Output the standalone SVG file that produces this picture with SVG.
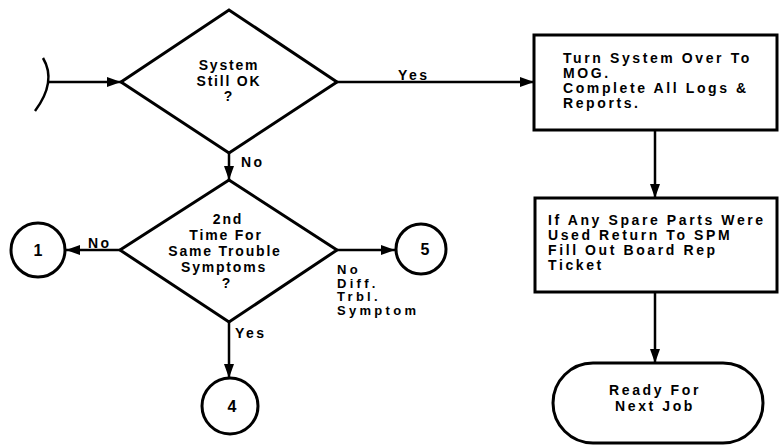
<svg xmlns="http://www.w3.org/2000/svg" width="781" height="446" viewBox="0 0 781 446">
  <style>
    .shape { fill: #fff; stroke: #000; stroke-width: 3; stroke-linejoin: miter; }
    .line { fill: none; stroke: #000; stroke-width: 2.5; }
    text { font-family: "Liberation Sans", Arial, Helvetica, sans-serif; font-weight: bold; font-size: 14px; fill: #000; letter-spacing: 2.6px; }
    .c { text-anchor: middle; letter-spacing: 1.8px; }
    .lab { letter-spacing: 2.5px; }
    .small { font-size: 13px; letter-spacing: 3.3px; }
    .num { text-anchor: middle; font-size: 16px; letter-spacing: 0; }
  </style>
  <defs>
    <marker id="arrow" viewBox="0 0 14 10" refX="14" refY="5" markerWidth="14" markerHeight="10" markerUnits="userSpaceOnUse" orient="auto">
      <path d="M0,0 L14,5 L0,10 Z" fill="#000"/>
    </marker>
  </defs>

  <!-- connectors and their labels -->
  <g id="connectors">
    <path class="line" d="M43,58 Q57,81.5 35,111"/>
    <line class="line" x1="48" y1="82" x2="121" y2="82" marker-end="url(#arrow)"/>
    <line class="line" x1="337" y1="82" x2="534" y2="82" marker-end="url(#arrow)"/>
    <line class="line" x1="229" y1="153" x2="229" y2="180" marker-end="url(#arrow)"/>
    <line class="line" x1="120" y1="250" x2="66" y2="250" marker-end="url(#arrow)"/>
    <line class="line" x1="337" y1="250" x2="395" y2="250" marker-end="url(#arrow)"/>
    <line class="line" x1="229" y1="322" x2="229" y2="378" marker-end="url(#arrow)"/>
    <line class="line" x1="655" y1="130" x2="655" y2="198" marker-end="url(#arrow)"/>
    <line class="line" x1="655" y1="292" x2="655" y2="363" marker-end="url(#arrow)"/>
    <text class="lab" x="398" y="80">Yes</text>
    <text class="lab" x="241" y="167">No</text>
    <text class="lab" x="88" y="248">No</text>
    <text class="lab" x="235" y="338">Yes</text>
    <text class="small"><tspan x="337" y="274">No</tspan><tspan x="337" y="287.5">Diff.</tspan><tspan x="337" y="301">Trbl.</tspan><tspan x="337" y="314.5">Symptom</tspan></text>
  </g>

  <g id="decision-system-ok">
    <polygon class="shape" points="121,82 229,10 337,82 229,153"/>
    <text class="c"><tspan x="229" y="70">System</tspan><tspan x="229" y="86">Still OK</tspan><tspan x="229" y="101">?</tspan></text>
  </g>

  <g id="decision-second-time">
    <polygon class="shape" points="120,250 229,180 337,250 229,322"/>
    <text class="c"><tspan x="228" y="224">2nd</tspan><tspan x="226" y="240">Time For</tspan><tspan x="225" y="256">Same Trouble</tspan><tspan x="224" y="272">Symptoms</tspan><tspan x="227" y="288">?</tspan></text>
  </g>

  <g id="connector-1">
    <circle class="shape" cx="38" cy="250" r="27"/>
    <text class="num" x="38" y="256">1</text>
  </g>

  <g id="connector-5">
    <circle class="shape" cx="421" cy="249" r="25"/>
    <text class="num" x="425" y="255">5</text>
  </g>

  <g id="connector-4">
    <circle class="shape" cx="230" cy="406" r="28"/>
    <text class="num" x="232" y="412">4</text>
  </g>

  <g id="turn-over">
    <rect class="shape" x="534" y="35" width="243" height="95"/>
    <text><tspan x="563" y="63">Turn System Over To</tspan><tspan x="563" y="78">MOG.</tspan><tspan x="563" y="93">Complete All Logs &amp;</tspan><tspan x="563" y="108">Reports.</tspan></text>
  </g>

  <g id="spare-parts">
    <rect class="shape" x="535" y="198" width="242" height="94"/>
    <text><tspan x="548" y="225">If Any Spare Parts Were</tspan><tspan x="548" y="240">Used Return To SPM</tspan><tspan x="548" y="255">Fill Out Board Rep</tspan><tspan x="548" y="270">Ticket</tspan></text>
  </g>

  <g id="ready">
    <rect class="shape" x="553" y="363" width="210" height="80" rx="40" ry="40"/>
    <text class="c" style="letter-spacing:2.6px"><tspan x="655" y="395">Ready For</tspan><tspan x="655" y="411">Next Job</tspan></text>
  </g>
</svg>
